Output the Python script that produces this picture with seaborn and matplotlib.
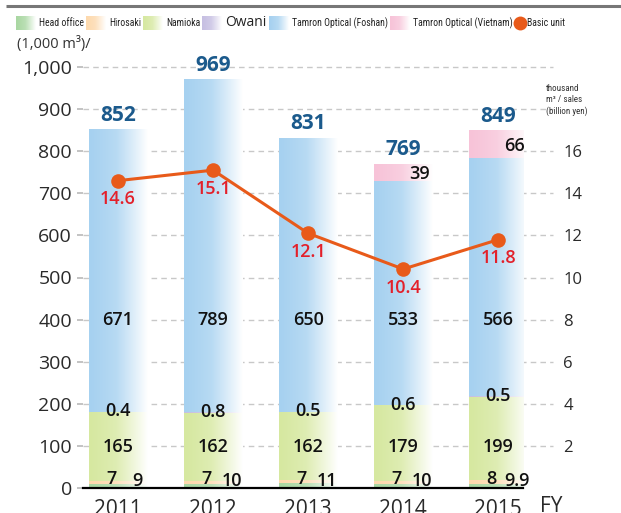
import numpy as np
import pandas as pd
import matplotlib
matplotlib.use("Agg")
import matplotlib.pyplot as plt
from matplotlib.colors import LinearSegmentedColormap, to_rgb
from matplotlib import font_manager
import seaborn as sns

years = ["2011", "2012", "2013", "2014", "2015"]
head_office = [9, 10, 11, 10, 9.9]
hirosaki = [7, 7, 7, 7, 8]
namioka = [165, 162, 162, 179, 199]
owani = [0.4, 0.8, 0.5, 0.6, 0.5]
foshan = [671, 789, 650, 533, 566]
vietnam = [0, 0, 0, 39, 66]
totals = [852, 969, 831, 769, 849]
basic_unit = [14.6, 15.1, 12.1, 10.4, 11.8]

series_names = ["Head office", "Hirosaki", "Namioka", "Owani",
                "Tamron Optical (Foshan)", "Tamron Optical (Vietnam)"]
series_vals = [head_office, hirosaki, namioka, owani, foshan, vietnam]
series_cols = ["#a9d7a2", "#fdd9ad", "#d6e8a0", "#c6bfe2", "#a6d1f0", "#f7c3d8"]

sns.set_theme(style="white")
plt.rcParams['font.family'] = ['Open Sans', 'DejaVu Sans']

available = {f.name for f in font_manager.fontManager.ttflist}
narrow_font = next((f for f in ["Liberation Sans Narrow", "DejaVu Sans Condensed",
                                "Roboto Condensed", "Open Sans Condensed", "Liberation Sans"]
                    if f in available), "DejaVu Sans")

W, H = 621, 513
fig = plt.figure(figsize=(W / 100, H / 100), dpi=100)

ax_l, ax_r, ax_b, ax_t = 83, 523, 488, 67
ax = fig.add_axes([ax_l / W, 1 - ax_b / H, (ax_r - ax_l) / W, (ax_b - ax_t) / H])

def grad_cmap(c):
    r, g, b = to_rgb(c)
    return LinearSegmentedColormap.from_list(
        "g", [(0, (r, g, b)), (0.4, (r + (1 - r) * 0.2, g + (1 - g) * 0.2, b + (1 - b) * 0.2)),
              (1, (1, 1, 1))])

df = pd.DataFrame({"year": years})
bottom = np.zeros(len(years))
layer_patches = []
for name, vals, col in zip(series_names, series_vals, series_cols):
    df["v"] = vals
    n_before = len(ax.patches)
    sns.barplot(data=df, x="year", y="v", bottom=bottom, color=col, width=0.62,
                ax=ax, saturation=1, zorder=3, linewidth=0)
    layer_patches.append((ax.patches[n_before:], col))
    bottom = bottom + np.array(vals, dtype=float)

grad = np.linspace(0, 1, 256).reshape(1, -1) ** 1.2
for patches, col in layer_patches:
    cmap = grad_cmap(col)
    for p in patches:
        x, y = p.get_x(), p.get_y()
        w, h = p.get_width(), p.get_height()
        if h <= 0:
            continue
        ax.imshow(grad, extent=[x, x + w, y, y + h], aspect="auto", cmap=cmap,
                  vmin=0, vmax=1, zorder=3, interpolation="bilinear")
        p.set_visible(False)

XL = (-0.368, 4.26)
ax.set_xlim(*XL)
ax.set_ylim(0, 1000)
ax.set_aspect("auto")
ax.set_xlabel("")
ax.set_ylabel("")
ax.set_yticks(np.arange(0, 1001, 100))
ax.set_yticklabels([f"{v:,}" for v in range(0, 1001, 100)], fontsize=14, color="#2a2a2a")
ax.tick_params(axis="y", length=4, color="#bbbbbb", pad=4, left=True)
ax.tick_params(axis="x", length=0, pad=8, labelsize=15, labelcolor="#2a2a2a")
for s in ["top", "right", "left"]:
    ax.spines[s].set_visible(False)
ax.spines["bottom"].set_color("black")
ax.spines["bottom"].set_linewidth(1.6)
ax.spines["bottom"].set_zorder(6)
ax.patch.set_alpha(0)

# dashed gridlines extending toward the right axis labels
ax.hlines(np.arange(100, 1001, 100), XL[0], 4.58, colors="#c8c8c8",
          linestyles=(0, (4, 3)), linewidth=1, zorder=1, clip_on=False)

# right axis & line
ax2 = ax.twinx()
ax2.set_position(ax.get_position())
xpos = np.arange(len(years))
sns.lineplot(x=xpos, y=basic_unit, ax=ax2, color="#e85a1a", linewidth=2.2,
             marker="o", markersize=10.5, markeredgewidth=0, zorder=5)
ax2.set_ylim(0, 20)
ax2.set_yticks(np.arange(2, 17, 2))
ax2.set_yticklabels([str(v) for v in range(2, 17, 2)], fontsize=12, color="#2a2a2a")
ax2.tick_params(axis="y", length=0, pad=29, right=True)
for s in ax2.spines.values():
    s.set_visible(False)
ax2.set_ylabel("")
ax.set_xlim(*XL)
ax2.set_xlim(*XL)

# labels
seg_kw = dict(fontsize=13, fontweight="semibold", color="#111111", zorder=7)
for i in range(len(years)):
    ax.text(i, totals[i] + 9, f"{totals[i]}", ha="center", va="bottom", fontsize=15,
            fontweight="bold", color="#1b5a8c", zorder=7)
    ax2.text(i, basic_unit[i] - 0.45, f"{basic_unit[i]}", ha="center", va="top", fontsize=13,
             fontweight="semibold", color="#e3202a", zorder=7)
    ax.text(i, 400, f"{foshan[i]}", ha="center", va="center", **seg_kw)
    ax.text(i, 97, f"{namioka[i]}", ha="center", va="center", **seg_kw)
    top_nam = head_office[i] + hirosaki[i] + namioka[i]
    ax.text(i, top_nam + 2, f"{owani[i]}", ha="center", va="center", **seg_kw)
    ax.text(i - 0.07, 22, f"{hirosaki[i]}", ha="center", va="center", **seg_kw)
    ax.text(i + 0.2, 16, f"{head_office[i]:g}", ha="center", va="center", **seg_kw)
    if vietnam[i] > 0:
        base = totals[i] - vietnam[i]
        ax.text(i + 0.17, base + vietnam[i] / 2 - 4, f"{vietnam[i]}", ha="center", va="center",
                **seg_kw)

# overlay for legend and annotations in pixel coords
ov = fig.add_axes([0, 0, 1, 1], zorder=10)
ov.axis("off")
ov.patch.set_alpha(0)
ov.set_xlim(0, W)
ov.set_ylim(H, 0)
ov.plot([6, W], [6, 6], color="#777777", linewidth=2.2, solid_capstyle="butt")

# legend: create texts, measure, then lay out sequentially
leg_y = 23
leg_texts = []
for label, col in zip(series_names, series_cols):
    if label == "Owani":
        t = ov.text(0, leg_y, label, ha="left", va="center", fontsize=10, family="Open Sans",
                    color="#222222")
    else:
        t = ov.text(0, leg_y, label, ha="left", va="center", fontsize=7, family=narrow_font,
                    color="#222222")
    leg_texts.append((t, col))
t_basic = ov.text(0, leg_y, "Basic unit", ha="left", va="center", fontsize=7,
                  family=narrow_font, color="#222222")

fig.canvas.draw()
renderer = fig.canvas.get_renderer()
x = 16
for t, col in leg_texts:
    ov.imshow(grad, extent=[x, x + 20, 30, 16], aspect="auto", cmap=grad_cmap(col),
              vmin=0, vmax=1, interpolation="bilinear")
    t.set_x(x + 23)
    x = x + 23 + t.get_window_extent(renderer).width + 2
ov.plot([x + 6], [leg_y], marker="o", markersize=10, color="#e85a1a", markeredgewidth=0)
t_basic.set_x(x + 13)
ov.set_xlim(0, W)
ov.set_ylim(H, 0)

ov.text(17, 44, "(1,000 m³)/", ha="left", va="center", fontsize=10.5, color="#333333")
ov.text(546, 100, "thousand\nm³ / sales\n(billion yen)", ha="left", va="center",
        fontsize=6.5, family=narrow_font, color="#333333", linespacing=1.3)
ov.text(540, 506, "FY", ha="left", va="center", fontsize=15, color="#2a2a2a")

fig.savefig("out.png", dpi=100)
